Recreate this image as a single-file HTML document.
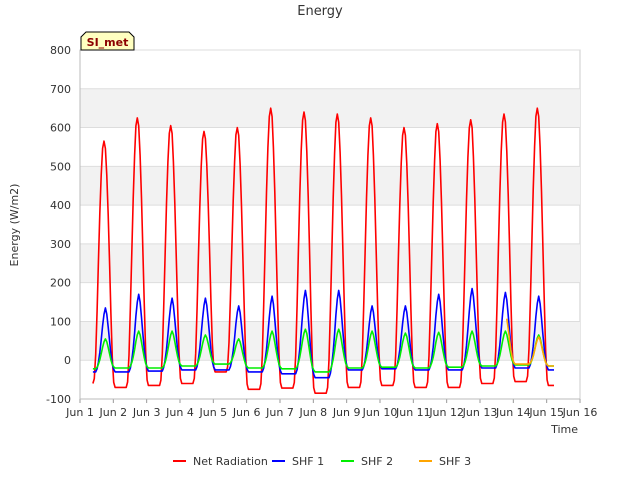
<!DOCTYPE html>
<html><head><meta charset="utf-8"><style>
body{margin:0;background:#fff;font-family:"Liberation Sans","DejaVu Sans",sans-serif}
</style></head><body>
<svg id="c" width="640" height="480" xmlns="http://www.w3.org/2000/svg" font-family="DejaVu Sans, Liberation Sans, sans-serif"></svg>
<script>
const days=[1,2,3,4,5,6,7,8,9,10,11,12,13,14];
const netPeak=[565,625,605,590,600,650,640,635,625,600,610,620,635,650];
const netNight=[-60,-70,-65,-60,-30,-75,-72,-85,-70,-65,-70,-70,-60,-55,-65];
const shf1Peak=[135,170,160,160,140,165,180,180,140,140,170,185,175,165];
const shf1Night=[-30,-30,-28,-25,-25,-30,-35,-45,-25,-22,-25,-25,-20,-20,-25];
const shf2Peak=[55,75,75,65,55,75,80,80,75,70,72,75,75,65];
const shf2Night=[-22,-20,-20,-15,-10,-20,-22,-30,-20,-18,-20,-18,-15,-12,-15];
const shf3Day=[13,14];
const shf3Peak=[120,60];
const shf3Night=[-5,-10,-15];
const offsets=[-12,-8,-7,-6,-5,-4,-3,-2,-1,0,1,2,3,4,5,6,7,8,12];
const netShape=[0,0,0.02,0.12,0.3,0.5,0.7,0.86,0.97,1,0.97,0.86,0.7,0.5,0.3,0.12,0.02,0,0];
const soilShape=[0,0,0,0,0.05,0.15,0.3,0.5,0.72,0.9,1,0.9,0.7,0.48,0.28,0.12,0.04,0,0];
const yTicks=[-100,0,100,200,300,400,500,600,700,800];
const xTicks=[1,2,3,4,5,6,7,8,9,10,11,12,13,14,15,16];
const NOON=0.72;
const X0=80,X1=580,Y0=50,Y1=399;
const xs=d=>X0+(d-1)/15*(X1-X0);
const ys=v=>Y1-(v+100)/900*(Y1-Y0);
const svg=document.getElementById('c');const NS='http://www.w3.org/2000/svg';
function mk(t,a,p){const e=document.createElementNS(NS,t);for(const k in a)e.setAttribute(k,a[k]);(p||svg).appendChild(e);return e;}
const bg=mk('rect',{x:X0,y:Y0,width:X1-X0,height:Y1-Y0,fill:'#fff',stroke:'#ccc'});


for(let i=0;i<yTicks.length-1;i++){if(i%2==1){const b=mk('rect',{x:X0,y:ys(yTicks[i+1]),width:X1-X0,height:ys(yTicks[i])-ys(yTicks[i+1]),fill:'#f2f2f2'});

}}
yTicks.forEach(v=>{const l=mk('line',{x1:X0,x2:X1,y1:ys(v),y2:ys(v),stroke:'#ddd'});


const t=mk('text',{x:X0-9,y:ys(v)+4,'text-anchor':'end','font-size':11,fill:'#333'});t.textContent=v;

});
xTicks.forEach(d=>{const t=mk('text',{x:xs(d),y:416,'text-anchor':'middle','font-size':11,fill:'#333'});t.textContent='Jun '+d;


mk('line',{x1:xs(d),x2:xs(d),y1:Y1,y2:Y1+4,stroke:'#999'});});
mk('line',{x1:X0,x2:X0,y1:Y0,y2:Y1,stroke:'#bbb'});mk('line',{x1:X0,x2:X1,y1:Y1,y2:Y1,stroke:'#bbb'});
function series(dd,peak,night,shape,color,name,start,end){let pts=[];
dd.forEach((d,i)=>{offsets.forEach((o,j)=>{const t=d+NOON+o/24;if(t<start||t>end)return;
const nb=o<=0?night[i]:night[i+1];
pts.push(xs(t).toFixed(1)+','+ys(nb+(peak[i]-nb)*shape[j]).toFixed(1));});});
const p=mk('polyline',{points:pts.join(' '),fill:'none',stroke:color,'stroke-width':1.6,'stroke-linejoin':'round'});

}
series(days,netPeak,netNight,netShape,'#f00','net-radiation-line',1.24,15.25);
series(days,shf1Peak,shf1Night,soilShape,'#00f','shf1-line',1.24,15.25);
series(days,shf2Peak,shf2Night,soilShape,'#0e0','shf2-line',1.24,15.25);
series(shf3Day,shf3Peak,shf3Night,soilShape,'orange','shf3-line',13.8,15.25);
const tt=mk('text',{x:320,y:15,'text-anchor':'middle','font-size':13,fill:'#333'});tt.textContent='Energy';


const yl=mk('text',{x:18,y:225,'text-anchor':'middle','font-size':11,fill:'#333',transform:'rotate(-90 18 225)'});yl.textContent='Energy (W/m2)';


const xl=mk('text',{x:578,y:433,'text-anchor':'end','font-size':11,fill:'#333'});xl.textContent='Time';


const sb=mk('path',{d:'M81,50 L81,37 L86,32 L129,32 L134,37 L134,50 Z',fill:'#ffffc0',stroke:'#000'});


const st=mk('text',{x:107.5,y:46,'text-anchor':'middle','font-size':11,'font-weight':'bold',fill:'#8b0000'});st.textContent='SI_met';


const leg=[['Net Radiation','#f00',173],['SHF 1','#00f',272],['SHF 2','#0e0',341],['SHF 3','orange',419]];
leg.forEach(([n,c,x])=>{const g=mk('g',{});


mk('line',{x1:x,x2:x+13,y1:461,y2:461,stroke:c,'stroke-width':2},g);
const t=mk('text',{x:x+20,y:465,'font-size':11,fill:'#333'},g);t.textContent=n;});
</script>
</body></html>
